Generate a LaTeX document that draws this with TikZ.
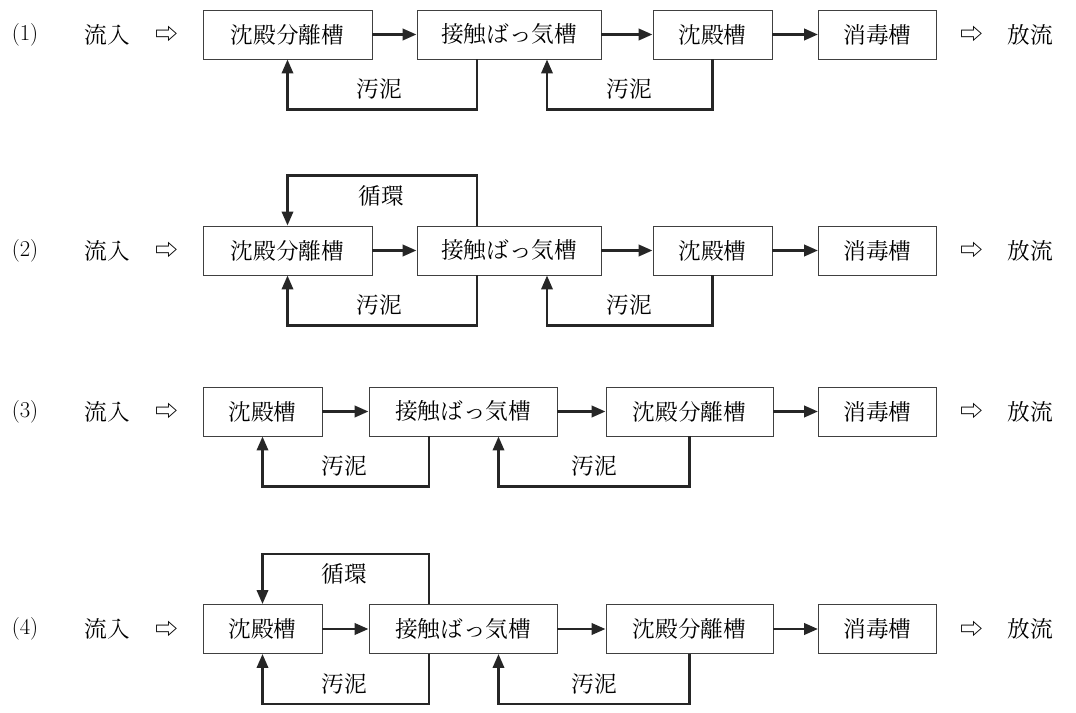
\documentclass[tikz,border=0pt]{standalone}
\usepackage{fontspec}
\newfontfamily\jp{Noto Serif CJK JP}
\usetikzlibrary{arrows.meta}
\tikzset{
  box/.style={draw=black!75, line width=0.7pt, minimum height=36.75pt, inner sep=0pt, font=\jp\fontsize{17}{20}\selectfont},
  bw/.style={minimum width=#1*0.75pt},
  lbl/.style={inner sep=0pt, font=\jp\fontsize{17}{20}\selectfont},
  num/.style={inner sep=0pt, font=\fontsize{17}{20}\selectfont},
  sarr/.style={inner sep=0pt, font=\jp\fontsize{17}{20}\selectfont},
  flow/.style={draw=black!85, line width=2.2pt, -{Triangle[length=10.5pt,width=8.5pt]}},
  ret/.style={draw=black!85, line width=1.9pt, -{Triangle[length=10.5pt,width=8.5pt]}},
}
\begin{document}
\begin{tikzpicture}[x=0.75pt,y=-0.75pt]
\useasboundingbox (0,0) rectangle (1076,713);
% ---------- Row 1 ----------
\node[num]  (n1)  at (25,34.5) {(1)};
\node[lbl]  (in1) at (107.5,34.5) {流入};
\node[sarr] (ai1) at (166.5,34.5) {⇨};
\node[box,bw=169] (a1) at (287.5,34.5) {沈殿分離槽};
\node[box,bw=184] (b1) at (509,34.5) {接触ばっ気槽};
\node[box,bw=119] (c1) at (712.5,34.5) {沈殿槽};
\node[box,bw=118] (d1) at (877.5,34.5) {消毒槽};
\node[sarr] (ao1) at (972,34.5) {⇨};
\node[lbl]  (out1) at (1030,34.5) {放流};
\draw[flow] (a1) -- (b1);
\draw[flow] (b1) -- (c1);
\draw[flow] (c1) -- (d1);
\coordinate (p1) at (477,0);
\coordinate (q1) at (547,0);
\draw[ret] (p1 |- b1.south) -- ++(0,50) -| (a1.south);
\draw[ret] (c1.south) -- ++(0,50) -| (q1 |- b1.south);
\node[lbl] (s1a) at (379,89) {汚泥};
\node[lbl] (s1b) at (629,89) {汚泥};
% ---------- Row 2 ----------
\node[num]  (n2)  at (25,250.5) {(2)};
\node[lbl]  (in2) at (107.5,250.5) {流入};
\node[sarr] (ai2) at (166.5,250.5) {⇨};
\node[box,bw=169] (a2) at (287.5,250.5) {沈殿分離槽};
\node[box,bw=184] (b2) at (509,250.5) {接触ばっ気槽};
\node[box,bw=119] (c2) at (712.5,250.5) {沈殿槽};
\node[box,bw=118] (d2) at (877.5,250.5) {消毒槽};
\node[sarr] (ao2) at (972,250.5) {⇨};
\node[lbl]  (out2) at (1030,250.5) {放流};
\draw[flow] (a2) -- (b2);
\draw[flow] (b2) -- (c2);
\draw[flow] (c2) -- (d2);
\coordinate (p2) at (477,0);
\coordinate (q2) at (547,0);
\draw[ret] (p2 |- b2.south) -- ++(0,50) -| (a2.south);
\draw[ret] (c2.south) -- ++(0,50) -| (q2 |- b2.south);
\draw[ret] (p2 |- b2.north) -- ++(0,-50) -| (a2.north);
\node[lbl] (s2a) at (379,305) {汚泥};
\node[lbl] (s2b) at (629,305) {汚泥};
\node[lbl] (r2)  at (381,196) {循環};
% ---------- Row 3 ----------
\node[num]  (n3)  at (25,411.5) {(3)};
\node[lbl]  (in3) at (107.5,411.5) {流入};
\node[sarr] (ai3) at (166.5,411.5) {⇨};
\node[box,bw=119] (a3) at (262.5,411.5) {沈殿槽};
\node[box,bw=188] (b3) at (463,411.5) {接触ばっ気槽};
\node[box,bw=167] (c3) at (689.5,411.5) {沈殿分離槽};
\node[box,bw=118] (d3) at (877.5,411.5) {消毒槽};
\node[sarr] (ao3) at (972,411.5) {⇨};
\node[lbl]  (out3) at (1030,411.5) {放流};
\draw[flow] (a3) -- (b3);
\draw[flow] (b3) -- (c3);
\draw[flow] (c3) -- (d3);
\coordinate (p3) at (429,0);
\coordinate (q3) at (498.5,0);
\draw[ret] (p3 |- b3.south) -- ++(0,50) -| (a3.south);
\draw[ret] (c3.south) -- ++(0,50) -| (q3 |- b3.south);
\node[lbl] (s3a) at (344,466) {汚泥};
\node[lbl] (s3b) at (594,466) {汚泥};
% ---------- Row 4 ----------
\node[num]  (n4)  at (25,629) {(4)};
\node[lbl]  (in4) at (107.5,629) {流入};
\node[sarr] (ai4) at (166.5,629) {⇨};
\node[box,bw=119] (a4) at (262.5,629) {沈殿槽};
\node[box,bw=188] (b4) at (463,629) {接触ばっ気槽};
\node[box,bw=167] (c4) at (689.5,629) {沈殿分離槽};
\node[box,bw=118] (d4) at (877.5,629) {消毒槽};
\node[sarr] (ao4) at (972,629) {⇨};
\node[lbl]  (out4) at (1030,629) {放流};
\draw[flow] (a4) -- (b4);
\draw[flow] (b4) -- (c4);
\draw[flow] (c4) -- (d4);
\coordinate (p4) at (429,0);
\coordinate (q4) at (498.5,0);
\draw[ret] (p4 |- b4.south) -- ++(0,50) -| (a4.south);
\draw[ret] (c4.south) -- ++(0,50) -| (q4 |- b4.south);
\draw[ret] (p4 |- b4.north) -- ++(0,-50) -| (a4.north);
\node[lbl] (s4a) at (344,684) {汚泥};
\node[lbl] (s4b) at (594,684) {汚泥};
\node[lbl] (r4)  at (344,574) {循環};
\end{tikzpicture}
\end{document}
